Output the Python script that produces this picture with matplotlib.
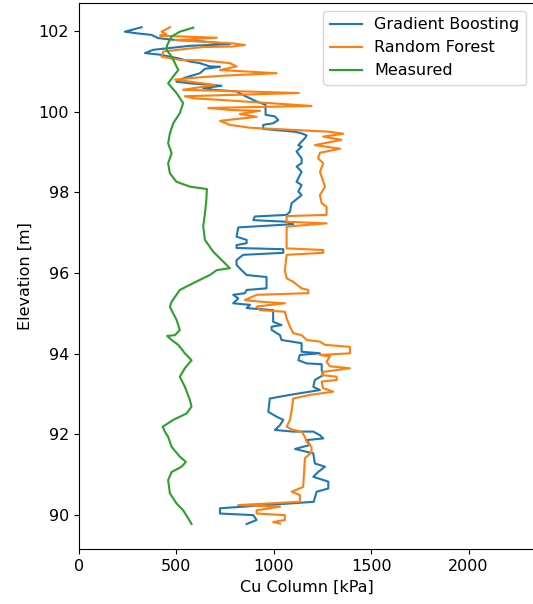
import numpy as np
import matplotlib
matplotlib.use("Agg")
import matplotlib.pyplot as plt

# Cu profiles against elevation (kPa, m)
gb_kpa = [322, 236, 296, 373, 407, 484, 630, 775, 570, 381, 339, 416, 510, 570, 621, 672,
          724, 647, 621, 544, 501, 570, 732, 638, 690, 809, 842, 878, 912, 958, 958, 1006,
          1023, 997, 946, 946, 1109, 1143, 1169, 1160, 1126, 1143, 1117, 1143, 1143, 1117,
          1143, 1117, 1143, 1126, 1143, 1092, 1083, 1066, 903, 895, 1066, 1100, 818, 809,
          861, 861, 809, 809, 1049, 1049, 843, 809, 809, 835, 861, 963, 963, 861, 852, 792,
          818, 792, 878, 861, 997, 997, 1040, 989, 989, 1032, 1040, 1143, 1143, 1237, 1134,
          1126, 1169, 1246, 1246, 1254, 1211, 1203, 1237, 1083, 980, 972, 1015, 1049, 1032,
          1006, 1100, 1203, 1237, 1254, 1169, 1186, 1109, 1203, 1211, 1263, 1228, 1203,
          1280, 1280, 1220, 1205, 724, 724, 895, 912, 861]
gb_elev = [102.09, 101.98, 101.94, 101.90, 101.82, 101.78, 101.74, 101.67, 101.63, 101.53,
           101.45, 101.41, 101.32, 101.24, 101.20, 101.12, 101.11, 101.06, 100.95, 100.84,
           100.74, 100.70, 100.64, 100.58, 100.54, 100.50, 100.41, 100.33, 100.25, 100.17,
           99.92, 99.88, 99.79, 99.71, 99.67, 99.57, 99.50, 99.46, 99.41, 99.34, 99.17, 99.13,
           99.01, 98.84, 98.72, 98.64, 98.51, 98.26, 98.18, 98.02, 97.93, 97.73, 97.52, 97.44,
           97.40, 97.31, 97.27, 97.21, 97.13, 96.90, 96.82, 96.74, 96.69, 96.62, 96.59, 96.50,
           96.45, 96.32, 96.20, 96.07, 95.95, 95.90, 95.62, 95.58, 95.50, 95.46, 95.37, 95.25,
           95.21, 95.13, 95.08, 94.79, 94.71, 94.67, 94.59, 94.46, 94.34, 94.26, 94.05, 94.01,
           93.97, 93.84, 93.76, 93.74, 93.60, 93.47, 93.35, 93.18, 93.10, 92.98, 92.89, 92.56,
           92.44, 92.36, 92.23, 92.11, 92.07, 92.07, 91.98, 91.90, 91.86, 91.74, 91.64, 91.53,
           91.28, 91.20, 91.07, 90.95, 90.83, 90.66, 90.58, 90.33, 90.17, 90.04, 90.00, 89.88,
           89.78]

rf_kpa = [467, 424, 450, 416, 707, 493, 792, 852, 784, 638, 433, 424, 518, 638, 775, 809,
          724, 1015, 741, 570, 493, 698, 535, 1129, 544, 587, 724, 1194, 664, 775, 929, 826,
          912, 724, 775, 878, 1288, 1357, 1254, 1348, 1211, 1340, 1237, 1228, 1254, 1237,
          1263, 1237, 1246, 1271, 1271, 1066, 1066, 1271, 1066, 1066, 1254, 1254, 1066, 1057,
          1066, 1100, 1143, 1177, 1177, 912, 852, 929, 1057, 912, 929, 1057, 1066, 1083, 1100,
          1143, 1169, 1237, 1263, 1391, 1391, 1237, 1288, 1271, 1288, 1391, 1254, 1246, 1323,
          1323, 1246, 1252, 1305, 1186, 1100, 1092, 1083, 1066, 1100, 1143, 1160, 1169, 1194,
          1194, 1160, 1151, 1092, 1134, 1134, 818, 1032, 912, 912, 1057, 1057, 997, 1032]
rf_elev = [102.09, 101.98, 101.91, 101.88, 101.83, 101.77, 101.69, 101.65, 101.61, 101.60,
           101.49, 101.36, 101.28, 101.27, 101.20, 101.12, 101.03, 100.95, 100.89, 100.83,
           100.79, 100.66, 100.54, 100.46, 100.38, 100.33, 100.29, 100.14, 100.09, 100.04,
           100.02, 99.94, 99.87, 99.77, 99.67, 99.60, 99.50, 99.45, 99.38, 99.30, 99.17, 99.08,
           98.98, 98.84, 98.72, 98.51, 98.14, 97.93, 97.73, 97.64, 97.44, 97.41, 97.27, 97.23,
           97.15, 96.61, 96.57, 96.50, 96.45, 96.07, 95.87, 95.78, 95.62, 95.58, 95.50, 95.46,
           95.33, 95.29, 95.25, 95.17, 95.08, 95.04, 94.88, 94.67, 94.51, 94.46, 94.34, 94.30,
           94.22, 94.17, 94.01, 93.97, 93.93, 93.80, 93.69, 93.64, 93.55, 93.47, 93.43, 93.35,
           93.31, 93.15, 93.06, 92.98, 92.89, 92.60, 92.36, 92.19, 92.11, 92.07, 91.94, 91.82,
           91.69, 91.56, 91.41, 90.70, 90.58, 90.50, 90.33, 90.25, 90.21, 90.12, 90.04, 90.00,
           89.88, 89.83, 89.79]

meas_kpa = [587, 518, 476, 453, 450, 476, 493, 510, 484, 458, 501, 535, 518, 484, 467, 458,
            476, 458, 467, 501, 570, 657, 654, 647, 638, 647, 689, 741, 775, 707, 672, 587,
            518, 476, 467, 501, 518, 493, 453, 476, 510, 544, 578, 544, 518, 544, 570, 578,
            553, 484, 430, 441, 458, 476, 518, 549, 527, 476, 458, 467, 501, 535, 561, 578]
meas_elev = [102.08, 101.98, 101.86, 101.65, 101.53, 101.36, 101.20, 101.03, 100.87, 100.70,
             100.46, 100.21, 99.96, 99.71, 99.46, 99.21, 98.97, 98.72, 98.47, 98.26, 98.14,
             98.08, 97.81, 97.48, 97.15, 96.82, 96.53, 96.28, 96.12, 96.07, 95.95, 95.75, 95.58,
             95.29, 95.16, 94.84, 94.59, 94.46, 94.44, 94.34, 94.22, 94.01, 93.84, 93.64, 93.43,
             93.18, 92.85, 92.69, 92.52, 92.36, 92.19, 92.07, 91.94, 91.69, 91.45, 91.32, 91.20,
             91.07, 90.87, 90.54, 90.29, 90.12, 89.92, 89.78]

plt.rcParams['font.size'] = 11.5

fig = plt.figure(figsize=(5.33, 6.04), dpi=100)
ax = fig.add_axes([0.148, 0.091, 0.854, 0.904])

ax.plot(gb_kpa, gb_elev, label='Gradient Boosting')
ax.plot(rf_kpa, rf_elev, label='Random Forest')
ax.plot(meas_kpa, meas_elev, label='Measured')

ax.set_xlim(0, 2336)
ax.set_ylim(89.16, 102.69)
ax.set_xticks([0, 500, 1000, 1500, 2000])
ax.set_xlabel('Cu Column [kPa]')
ax.set_ylabel('Elevation [m]')
ax.legend(loc='upper right')

fig.savefig('out.png', dpi=100)
